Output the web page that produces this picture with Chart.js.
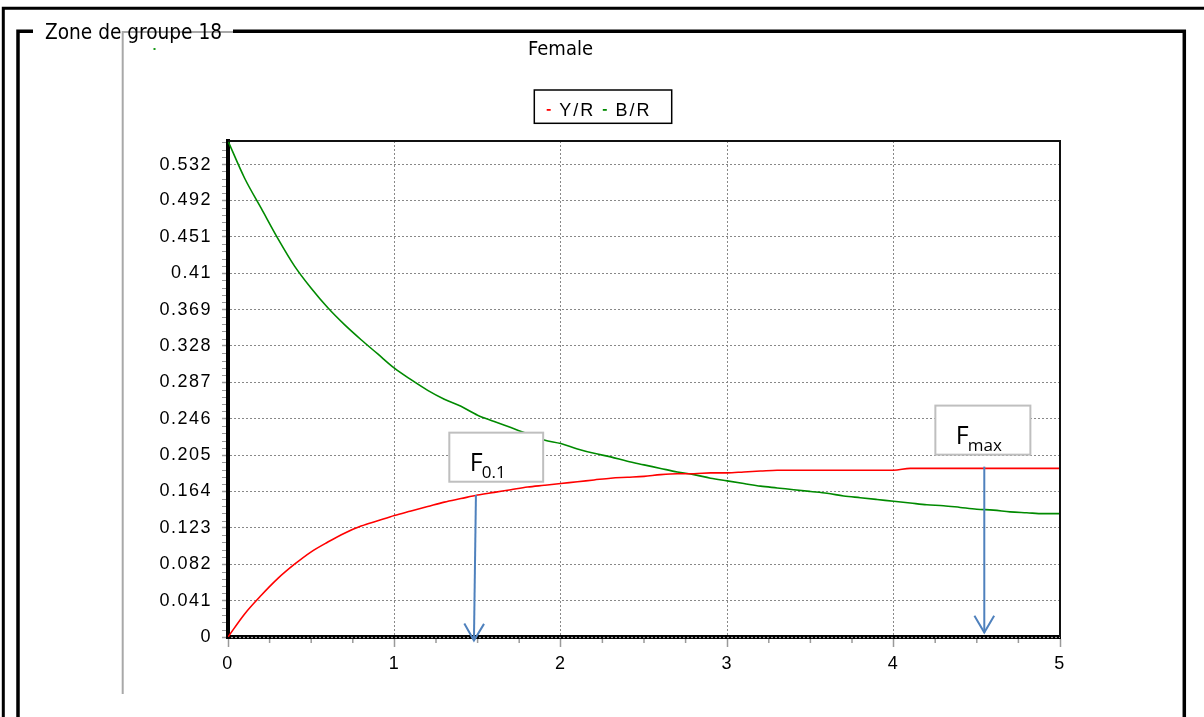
<!DOCTYPE html>
<html><head><meta charset="utf-8">
<script src="https://cdn.jsdelivr.net/npm/chart.js@4.4.0/dist/chart.umd.min.js"></script>
<style>html,body{margin:0;padding:0;background:#fff;overflow:hidden}canvas{display:block}</style>
</head><body>
<canvas id="c" width="1204" height="717"></canvas>
<script>
// ---------- data ----------
const fValues = [0.0,0.1,0.2,0.3,0.4,0.5,0.6,0.7,0.8,0.9,1.0,1.1,1.2,1.3,1.4,1.5,1.6,1.7,1.8,1.9,2.0,2.1,2.2,2.3,2.4,2.5,2.6,2.7,2.8,2.9,3.0,3.1,3.2,3.3,3.4,3.5,3.6,3.7,3.8,3.9,4.0,4.1,4.2,4.3,4.4,4.5,4.6,4.7,4.8,4.9,5.0];
const yieldPerRecruit = [0.000,0.026,0.047,0.066,0.082,0.096,0.107,0.117,0.125,0.131,0.137,0.142,0.147,0.152,0.156,0.160,0.163,0.166,0.169,0.171,0.173,0.175,0.177,0.179,0.180,0.181,0.183,0.184,0.184,0.185,0.185,0.186,0.187,0.188,0.188,0.188,0.188,0.188,0.188,0.188,0.188,0.190,0.190,0.190,0.190,0.190,0.190,0.190,0.190,0.190,0.190];
const biomassPerRecruit = [0.559,0.517,0.483,0.449,0.418,0.393,0.371,0.352,0.335,0.319,0.303,0.290,0.278,0.268,0.260,0.250,0.243,0.236,0.229,0.222,0.218,0.212,0.207,0.203,0.198,0.194,0.190,0.186,0.183,0.179,0.176,0.173,0.170,0.168,0.166,0.164,0.162,0.159,0.157,0.155,0.153,0.151,0.149,0.148,0.146,0.144,0.143,0.141,0.140,0.139,0.139];
const seriesNames = ['Y/R','B/R'];
const seriesColors = ['#ff0000','#008a00'];
const xTickValues = [0,1,2,3,4,5];
const yTickLabels = ['0','0.041','0.082','0.123','0.164','0.205','0.246','0.287','0.328','0.369','0.41','0.451','0.492','0.532'];
const chartTitle = 'Female';
const groupLabel = 'Zone de groupe 18';
const refSubscripts = ['0.1','max'];
const refArrowStart = [[1.490,0.160],[4.545,0.192]];
const refArrowEnd = [[1.478,-0.004],[4.545,0.005]];

// ---------- annotation layout (data units) ----------
const refBoxes = [
  {x1:1.330, y1:0.2303, x2:1.894, y2:0.1750},
  {x1:4.251, y1:0.2608, x2:4.822, y2:0.2055}
];

const SANS = "'Liberation Sans', Arial, sans-serif";
const TAHOMA = "'DejaVu Sans Condensed','DejaVu Sans',sans-serif";
const CAL = "'Open Sans','Noto Sans',sans-serif";

function fitSize(c, text, family, width){
  c.font = '100px ' + family;
  const w = c.measureText(text).width;
  return 100 * width / w;
}

function arrow(c, x1, y1, x2, y2){
  c.beginPath(); c.moveTo(x1, y1); c.lineTo(x2, y2); c.stroke();
  const a = Math.atan2(y2 - y1, x2 - x1), L = 19.5, h = 0.53;
  c.beginPath();
  c.moveTo(x2 - L*Math.cos(a - h), y2 - L*Math.sin(a - h));
  c.lineTo(x2, y2);
  c.lineTo(x2 - L*Math.cos(a + h), y2 - L*Math.sin(a + h));
  c.stroke();
}

const decor = {
  id: 'decor',
  beforeDraw(chart){
    const c = chart.ctx;
    c.save();
    c.letterSpacing = '0px';
    c.fillStyle = '#fff'; c.fillRect(0, 0, chart.width, chart.height);
    // grey frame of the embedded chart object
    c.strokeStyle = '#a8a8a8'; c.lineWidth = 2;
    c.beginPath(); c.moveTo(122.7, 32); c.lineTo(1087, 32); c.moveTo(122.7, 31); c.lineTo(122.7, 694); c.stroke();
    // outer black frame
    c.strokeStyle = '#000'; c.lineWidth = 3; c.lineJoin = 'miter';
    c.beginPath(); c.moveTo(3.3, 717); c.lineTo(3.3, 8.3); c.lineTo(1204, 8.3); c.stroke();
    // group box
    c.lineWidth = 3.5;
    c.beginPath(); c.moveTo(18, 717); c.lineTo(18, 31.3); c.lineTo(33, 31.3); c.stroke();
    c.beginPath(); c.moveTo(233, 31.3); c.lineTo(1184.3, 31.3); c.lineTo(1184.3, 717); c.stroke();
    // group label
    const gs = fitSize(c, groupLabel, TAHOMA, 177);
    c.font = gs.toFixed(2) + 'px ' + TAHOMA;
    c.fillStyle = '#000'; c.textAlign = 'left'; c.textBaseline = 'alphabetic';
    c.fillText(groupLabel, 45, 39);
    // stray green pixel
    c.fillStyle = '#1a9a1a'; c.fillRect(153.5, 48, 2, 2);
    // title
    const ts = fitSize(c, chartTitle, TAHOMA, 65);
    c.font = ts.toFixed(2) + 'px ' + TAHOMA;
    c.fillStyle = '#000'; c.textAlign = 'center';
    c.fillText(chartTitle, 560.5, 55);
    c.restore();
    c.letterSpacing = '1.5px';
  },
  afterDatasetsDraw(chart){
    const c = chart.ctx, xs = chart.scales.x, ys = chart.scales.y;
    c.save();
    c.letterSpacing = '0px';
    refBoxes.forEach((b, i) => {
      const l = xs.getPixelForValue(b.x1), r = xs.getPixelForValue(b.x2);
      const t = ys.getPixelForValue(b.y1), bt = ys.getPixelForValue(b.y2);
      c.fillStyle = '#fff'; c.fillRect(l, t, r - l, bt - t);
      c.strokeStyle = '#bfbfbf'; c.lineWidth = 2; c.strokeRect(l, t, r - l, bt - t);
      c.fillStyle = '#000'; c.textAlign = 'left'; c.textBaseline = 'alphabetic';
      c.font = '25px ' + CAL;
      const fx = l + 20.5, fy = t + 38;
      c.fillText('F', fx, fy);
      const fw = c.measureText('F').width;
      c.font = '17px ' + CAL;
      c.fillText(refSubscripts[i], fx + fw - 1, fy + 7);
    });
    c.restore();
  },
  afterDraw(chart){
    const c = chart.ctx, a = chart.chartArea, xs = chart.scales.x, ys = chart.scales.y;
    c.save();
    c.letterSpacing = '0px';
    // top and right frame of plot
    c.strokeStyle = '#111'; c.lineWidth = 2;
    c.beginPath(); c.moveTo(a.left, a.top); c.lineTo(a.right, a.top); c.lineTo(a.right, a.bottom); c.stroke();
    // dotted pattern on the x axis line
    c.strokeStyle = '#a0a0a0'; c.lineWidth = 1.2; c.setLineDash([2, 2]);
    c.beginPath(); c.moveTo(a.left + 3, a.bottom + 0.5); c.lineTo(a.right, a.bottom + 0.5); c.stroke();
    c.setLineDash([]);
    // minor ticks x
    c.strokeStyle = '#9a9a9a'; c.lineWidth = 1.5;
    for (let k = 0; k <= 20; k++){
      if (k % 4 === 0) continue;
      const px = xs.getPixelForValue(k * 0.25);
      c.beginPath(); c.moveTo(px, a.bottom + 2); c.lineTo(px, a.bottom + 6); c.stroke();
    }
    // minor ticks y
    c.lineWidth = 1;
    const step = parseFloat(yTickLabels[1]);
    for (let k = 1; k * step / 5 <= ys.max; k++){
      if (k % 5 === 0) continue;
      const py = Math.round(ys.getPixelForValue(k * step / 5)) + 0.5;
      c.beginPath(); c.moveTo(a.left - 6, py); c.lineTo(a.left - 2, py); c.stroke();
    }
    // legend
    const lx = 534.3, ly = 90, lw = 137.4, lh = 33.3;
    c.strokeStyle = '#000'; c.lineWidth = 1.5;
    c.strokeRect(lx, ly, lw, lh);
    c.font = '18px ' + SANS; c.letterSpacing = '2px';
    c.textAlign = 'left'; c.textBaseline = 'alphabetic';
    let cx = lx + 12.4;
    chart.data.datasets.forEach((ds, i) => {
      c.fillStyle = ds.borderColor;
      c.fillRect(cx, ly + 19, 4, 1.8);
      cx += 12.6;
      c.fillStyle = '#000';
      c.fillText(ds.label, cx, ly + 26.3);
      cx += c.measureText(ds.label).width + 7.5;
    });
    c.letterSpacing = '0px';
    // arrows
    c.strokeStyle = '#4f81bd'; c.lineWidth = 2;
    refArrowStart.forEach((s, i) => {
      const e = refArrowEnd[i];
      arrow(c, xs.getPixelForValue(s[0]), ys.getPixelForValue(s[1]), xs.getPixelForValue(e[0]), ys.getPixelForValue(e[1]));
    });
    c.restore();
  }
};

const tickFont = {family: SANS, size: 18};
new Chart(document.getElementById('c'), {
  type: 'line',
  data: {
    datasets: [
      {label: seriesNames[0], data: fValues.map((f, i) => ({x: f, y: yieldPerRecruit[i]})),
       borderColor: seriesColors[0], backgroundColor: seriesColors[0], borderWidth: 1.6, pointRadius: 0,
       cubicInterpolationMode: 'monotone', fill: false},
      {label: seriesNames[1], data: fValues.map((f, i) => ({x: f, y: biomassPerRecruit[i]})),
       borderColor: seriesColors[1], backgroundColor: seriesColors[1], borderWidth: 1.6, pointRadius: 0,
       cubicInterpolationMode: 'monotone', fill: false}
    ]
  },
  options: {
    responsive: false, animation: false, devicePixelRatio: 1,
    layout: {padding: {left: 0, right: 144, top: 141, bottom: 40}},
    plugins: {legend: {display: false}, title: {display: false}, tooltip: {enabled: false}},
    scales: {
      x: {
        type: 'linear', min: 0, max: 5,
        afterBuildTicks: s => { s.ticks = xTickValues.map(v => ({value: v})); },
        afterFit: s => { s.height = 40; },
        ticks: {color: '#000', font: tickFont, padding: 6, maxRotation: 0, autoSkip: false},
        grid: {color: '#888', lineWidth: 1, tickColor: '#9a9a9a', tickLength: 10, tickWidth: 1.5},
        border: {color: '#000', width: 4, dash: [2, 2]}
      },
      y: {
        type: 'linear', min: 0, max: 0.559,
        afterBuildTicks: s => { s.ticks = yTickLabels.map(l => ({value: parseFloat(l)})); },
        afterFit: s => { s.width = 228; },
        ticks: {color: '#000', font: tickFont, padding: 10, autoSkip: false,
                callback: (v, i) => yTickLabels[i]},
        grid: {color: '#888', lineWidth: 1, tickColor: '#9a9a9a', tickLength: 6, tickWidth: 1.5},
        border: {color: '#000', width: 4, dash: [2, 2]}
      }
    }
  },
  plugins: [decor]
});
</script>
</body></html>
